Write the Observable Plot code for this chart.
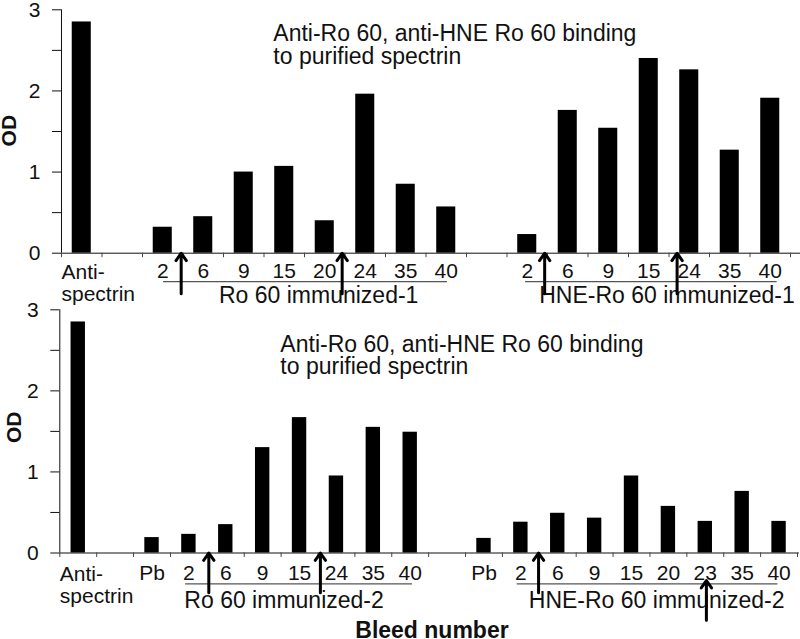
<!DOCTYPE html>
<html><head><meta charset="utf-8">
<script src="https://cdn.jsdelivr.net/npm/d3@7"></script>
<script src="https://cdn.jsdelivr.net/npm/@observablehq/plot@0.6"></script>
<style>
body{margin:0;background:#fff;}
#wrap{position:relative;width:800px;height:639px;overflow:hidden;background:#fff;}
#wrap svg{position:absolute;left:0;}
</style></head><body><div id="wrap"></div>
<script>
// ---- data ----
const topLabels = ["Anti-\nspectrin","","2","6","9","15","20","24","35","40","","2","6","9","15","24","35","40"];
const topValues = [2.85,null,0.32,0.45,1.00,1.07,0.40,1.96,0.85,0.57,null,0.23,1.76,1.54,2.40,2.26,1.27,1.91];
const bottomLabels = ["Anti-\nspectrin","","Pb","2","6","9","15","24","35","40","","Pb","2","6","9","15","20","23","35","40"];
const bottomValues = [2.85,null,0.19,0.23,0.35,1.30,1.67,0.95,1.55,1.49,null,0.18,0.38,0.49,0.43,0.95,0.575,0.39,0.76,0.39];
const yTicks = [0,0.5,1,1.5,2,2.5,3];
const annotation = "Anti-Ro 60, anti-HNE Ro 60 binding\nto purified spectrin";
const yTitle = "OD";
const xTitle = "Bleed number";
// group labels (in category units)
const topGroupNames = ["Ro 60 immunized-1","HNE-Ro 60 immunized-1"];
const topGroupStart = [2.52, 11.46];
const topGroupEnd = [9.53, 17.67];
const topGroupCenter = [6.35, 14.95];
const bottomGroupNames = ["Ro 60 immunized-2","HNE-Ro 60 immunized-2"];
const bottomGroupStart = [3.41, 12.4];
const bottomGroupEnd = [9.56, 19.47];
const bottomGroupCenter = [6.08, 16.18];
// immunization arrows (category units / OD units)
const topArrowX = [2.955, 6.93, 11.93, 15.2];
const topArrowTail = [-0.5, -0.5, -0.5, -0.5];
const topArrowTip = [0, 0, 0, 0];
const bottomArrowX = [4.04, 7.065, 12.98, 17.53];
const bottomArrowTail = [-0.49, -0.49, -0.49, -0.83];
const bottomArrowTip = [0, 0, 0, -0.34];

const FONT = '"Liberation Sans", Arial, sans-serif';
const INK = "#111";

function panel(o) {
  const n = o.labels.length;
  const bars = o.values.map((v, i) => ({i, v})).filter(d => d.v != null);
  const labs = o.labels.map((l, i) => ({i, l})).filter(d => d.l !== "");
  const groups = o.groupNames.map((g, k) => ({g, s: o.groupStart[k], e: o.groupEnd[k], c: o.groupCenter[k]}));
  const arrows = o.arrowX.map((x, k) => ({x, t: o.arrowTail[k], h: o.arrowTip[k]}));
  const w = o.barWidth;
  const svg = Plot.plot({
    width: 800, height: o.height,
    marginLeft: o.marginLeft, marginRight: o.marginRight,
    marginTop: o.marginTop, marginBottom: o.marginBottom,
    x: {domain: [0, n], axis: null},
    y: {domain: [0, 3], axis: null},
    style: {fontFamily: FONT, fontSize: "21px", color: INK, background: "transparent", overflow: "visible"},
    marks: [
      Plot.rectY(bars, {x1: d => d.i + 0.5 - w / 2, x2: d => d.i + 0.5 + w / 2, y1: 0, y2: "v", fill: "#000"}),
      Plot.axisY({ticks: yTicks, tickSize: 9, tickPadding: 12, tickFormat: d => (d % 1 ? "" : d), label: null, fontSize: 21, stroke: INK}),
      Plot.ruleX([0], {y1: 0, y2: 3, stroke: INK}),
      Plot.ruleY([0], {x1: 0, x2: n + o.axisExtra, stroke: INK}),
      Plot.ruleX(d3.range(n + 1), {x: d => d, y1: 0, y2: -0.055, stroke: "#444"}),
      Plot.text(labs.filter(d => d.i > 0), {x: d => d.i + 0.5, y: 0, text: "l", lineAnchor: "top", dy: o.labelDy, fontSize: 21, fill: INK}),
      Plot.text(labs.filter(d => d.i === 0), {x: 0, y: 0, text: "l", textAnchor: "start", lineAnchor: "top", dy: o.labelDy, lineHeight: 1.05, fontSize: 21, fill: INK}),
      Plot.ruleY(groups, {x1: "s", x2: "e", y: o.groupLineY, stroke: "#555", strokeWidth: 1.2}),
      Plot.text(groups, {x: "c", y: o.groupTextY, text: "g", fontSize: 23, fill: INK}),
      Plot.arrow(arrows, {x1: "x", x2: "x", y1: "t", y2: "h", strokeWidth: 3, headLength: 4.5, headAngle: 70, stroke: "#000"}),
      Plot.text([annotation], {x: o.annX, y: o.annY, text: d => d, textAnchor: "start", lineAnchor: "top", lineHeight: 0.98, fontSize: 23, fill: INK}),
      Plot.text([yTitle], {x: o.odX, y: o.odY, text: d => d, rotate: -90, fontSize: 21, fontWeight: "bold", fill: INK}),
      ...(o.xTitle ? [Plot.text([o.xTitle], {x: o.xtX, y: o.xtY, text: d => d, lineAnchor: "bottom", fontSize: 23, fontWeight: "bold", fill: INK})] : [])
    ]
  });
  svg.style.top = o.top + "px";
  return svg;
}

const wrap = document.getElementById("wrap");
wrap.appendChild(panel({
  labels: topLabels, values: topValues, top: 0, height: 310,
  marginLeft: 61, marginRight: 10, marginTop: 9.3, marginBottom: 57.3,
  barWidth: 0.47, axisExtra: 0.25, labelDy: 10,
  groupNames: topGroupNames, groupStart: topGroupStart, groupEnd: topGroupEnd, groupCenter: topGroupCenter,
  groupLineY: -0.35, groupTextY: -0.52,
  arrowX: topArrowX, arrowTail: topArrowTail, arrowTip: topArrowTip,
  annX: 5.23, annY: 2.81, odX: -1.28, odY: 1.51
}));
wrap.appendChild(panel({
  labels: bottomLabels, values: bottomValues, top: 300, height: 339,
  marginLeft: 59.3, marginRight: 3, marginTop: 9.3, marginBottom: 86.5,
  barWidth: 0.39, axisExtra: 0.05, labelDy: 12,
  groupNames: bottomGroupNames, groupStart: bottomGroupStart, groupEnd: bottomGroupEnd, groupCenter: bottomGroupCenter,
  groupLineY: -0.38, groupTextY: -0.59,
  arrowX: bottomArrowX, arrowTail: bottomArrowTail, arrowTip: bottomArrowTip,
  annX: 5.98, annY: 2.683, odX: -1.23, odY: 1.55,
  xTitle: xTitle, xtX: 10.09, xtY: -1.045
}));
</script></body></html>
